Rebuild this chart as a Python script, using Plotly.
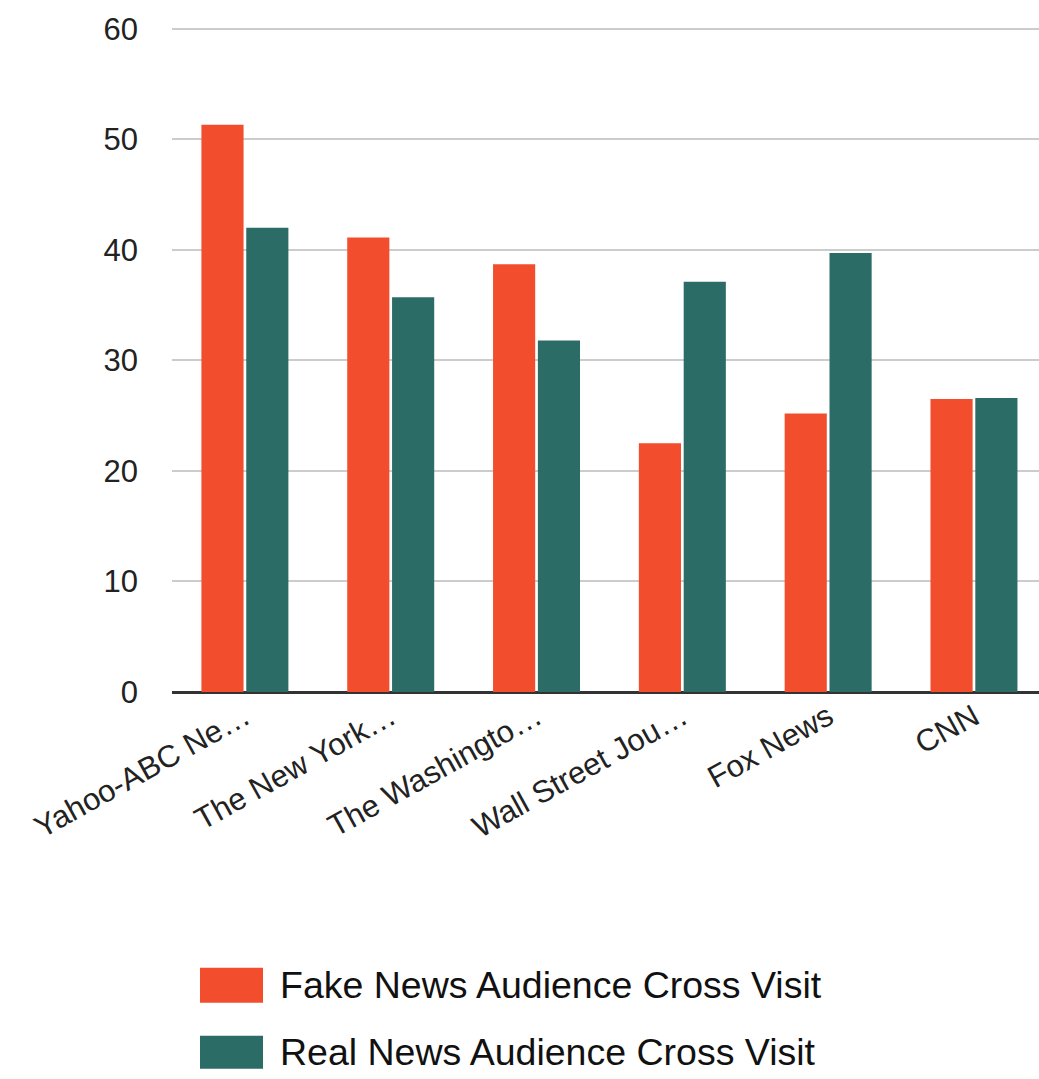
import plotly.graph_objects as go

categories = ["Yahoo-ABC Ne…", "The New York…", "The Washingto…", "Wall Street Jou…", "Fox News", "CNN"]
fake_values = [51.3, 41.1, 38.7, 22.5, 25.2, 26.5]
real_values = [42.0, 35.7, 31.8, 37.1, 39.7, 26.6]
series_names = ["Fake News Audience Cross Visit", "Real News Audience Cross Visit"]
colors = ["#F24E2E", "#2B6C66"]
y_ticks = [0, 10, 20, 30, 40, 50, 60]

W, H = 1039, 1079
L, R, T, B = 172, 0, 26.5, 387
font_family = "Liberation Sans, Arial, sans-serif"

fig = go.Figure()
for name, vals, col in zip(series_names, [fake_values, real_values], colors):
    fig.add_trace(go.Bar(x=categories, y=vals, name=name, marker_color=col,
                         marker_line_width=0, showlegend=False))

fig.update_layout(
    width=W, height=H,
    margin=dict(l=L, r=R, t=T, b=B, pad=0),
    paper_bgcolor="white", plot_bgcolor="white",
    barmode="group", bargap=0.385, bargroupgap=0.06,
    font=dict(family=font_family, size=31, color="#222"),
)
# the original plot area runs slightly past the right edge of the picture
fig.update_xaxes(showgrid=False, tickangle=-29, ticks="", showline=False,
                 range=[-0.5, 5.446],
                 tickfont=dict(size=31, color="#222"))
fig.update_yaxes(range=[0, 60.15], tickvals=y_ticks, showgrid=True, gridcolor="#CCCCCC",
                 gridwidth=2, zeroline=True, zerolinecolor="#333333", zerolinewidth=3,
                 showline=False, ticks="", ticklabelstandoff=33,
                 tickfont=dict(size=31, color="#222"))

# manual legend (page pixel coordinates converted to paper)
ph = H - T - B
pw = W - L - R
def py(pix):
    return 1 - (pix - T) / ph
def px(pix):
    return (pix - L) / pw

legend_rows = [(968, 1003), (1036, 1069)]
for (y0, y1), name, col in zip(legend_rows, series_names, colors):
    fig.add_shape(type="rect", xref="paper", yref="paper",
                  x0=px(200), x1=px(263), y0=py(y1), y1=py(y0),
                  fillcolor=col, line_width=0)
    fig.add_annotation(xref="paper", yref="paper", x=px(278), y=py((y0 + y1) / 2),
                       text=name, showarrow=False, xanchor="left", yanchor="middle",
                       font=dict(size=37.5, color="#111", family=font_family))

fig.write_html(
    "out.html",
    config={"displayModeBar": False},
    post_script="document.body.style.margin='0';document.body.style.overflow='hidden';",
)
